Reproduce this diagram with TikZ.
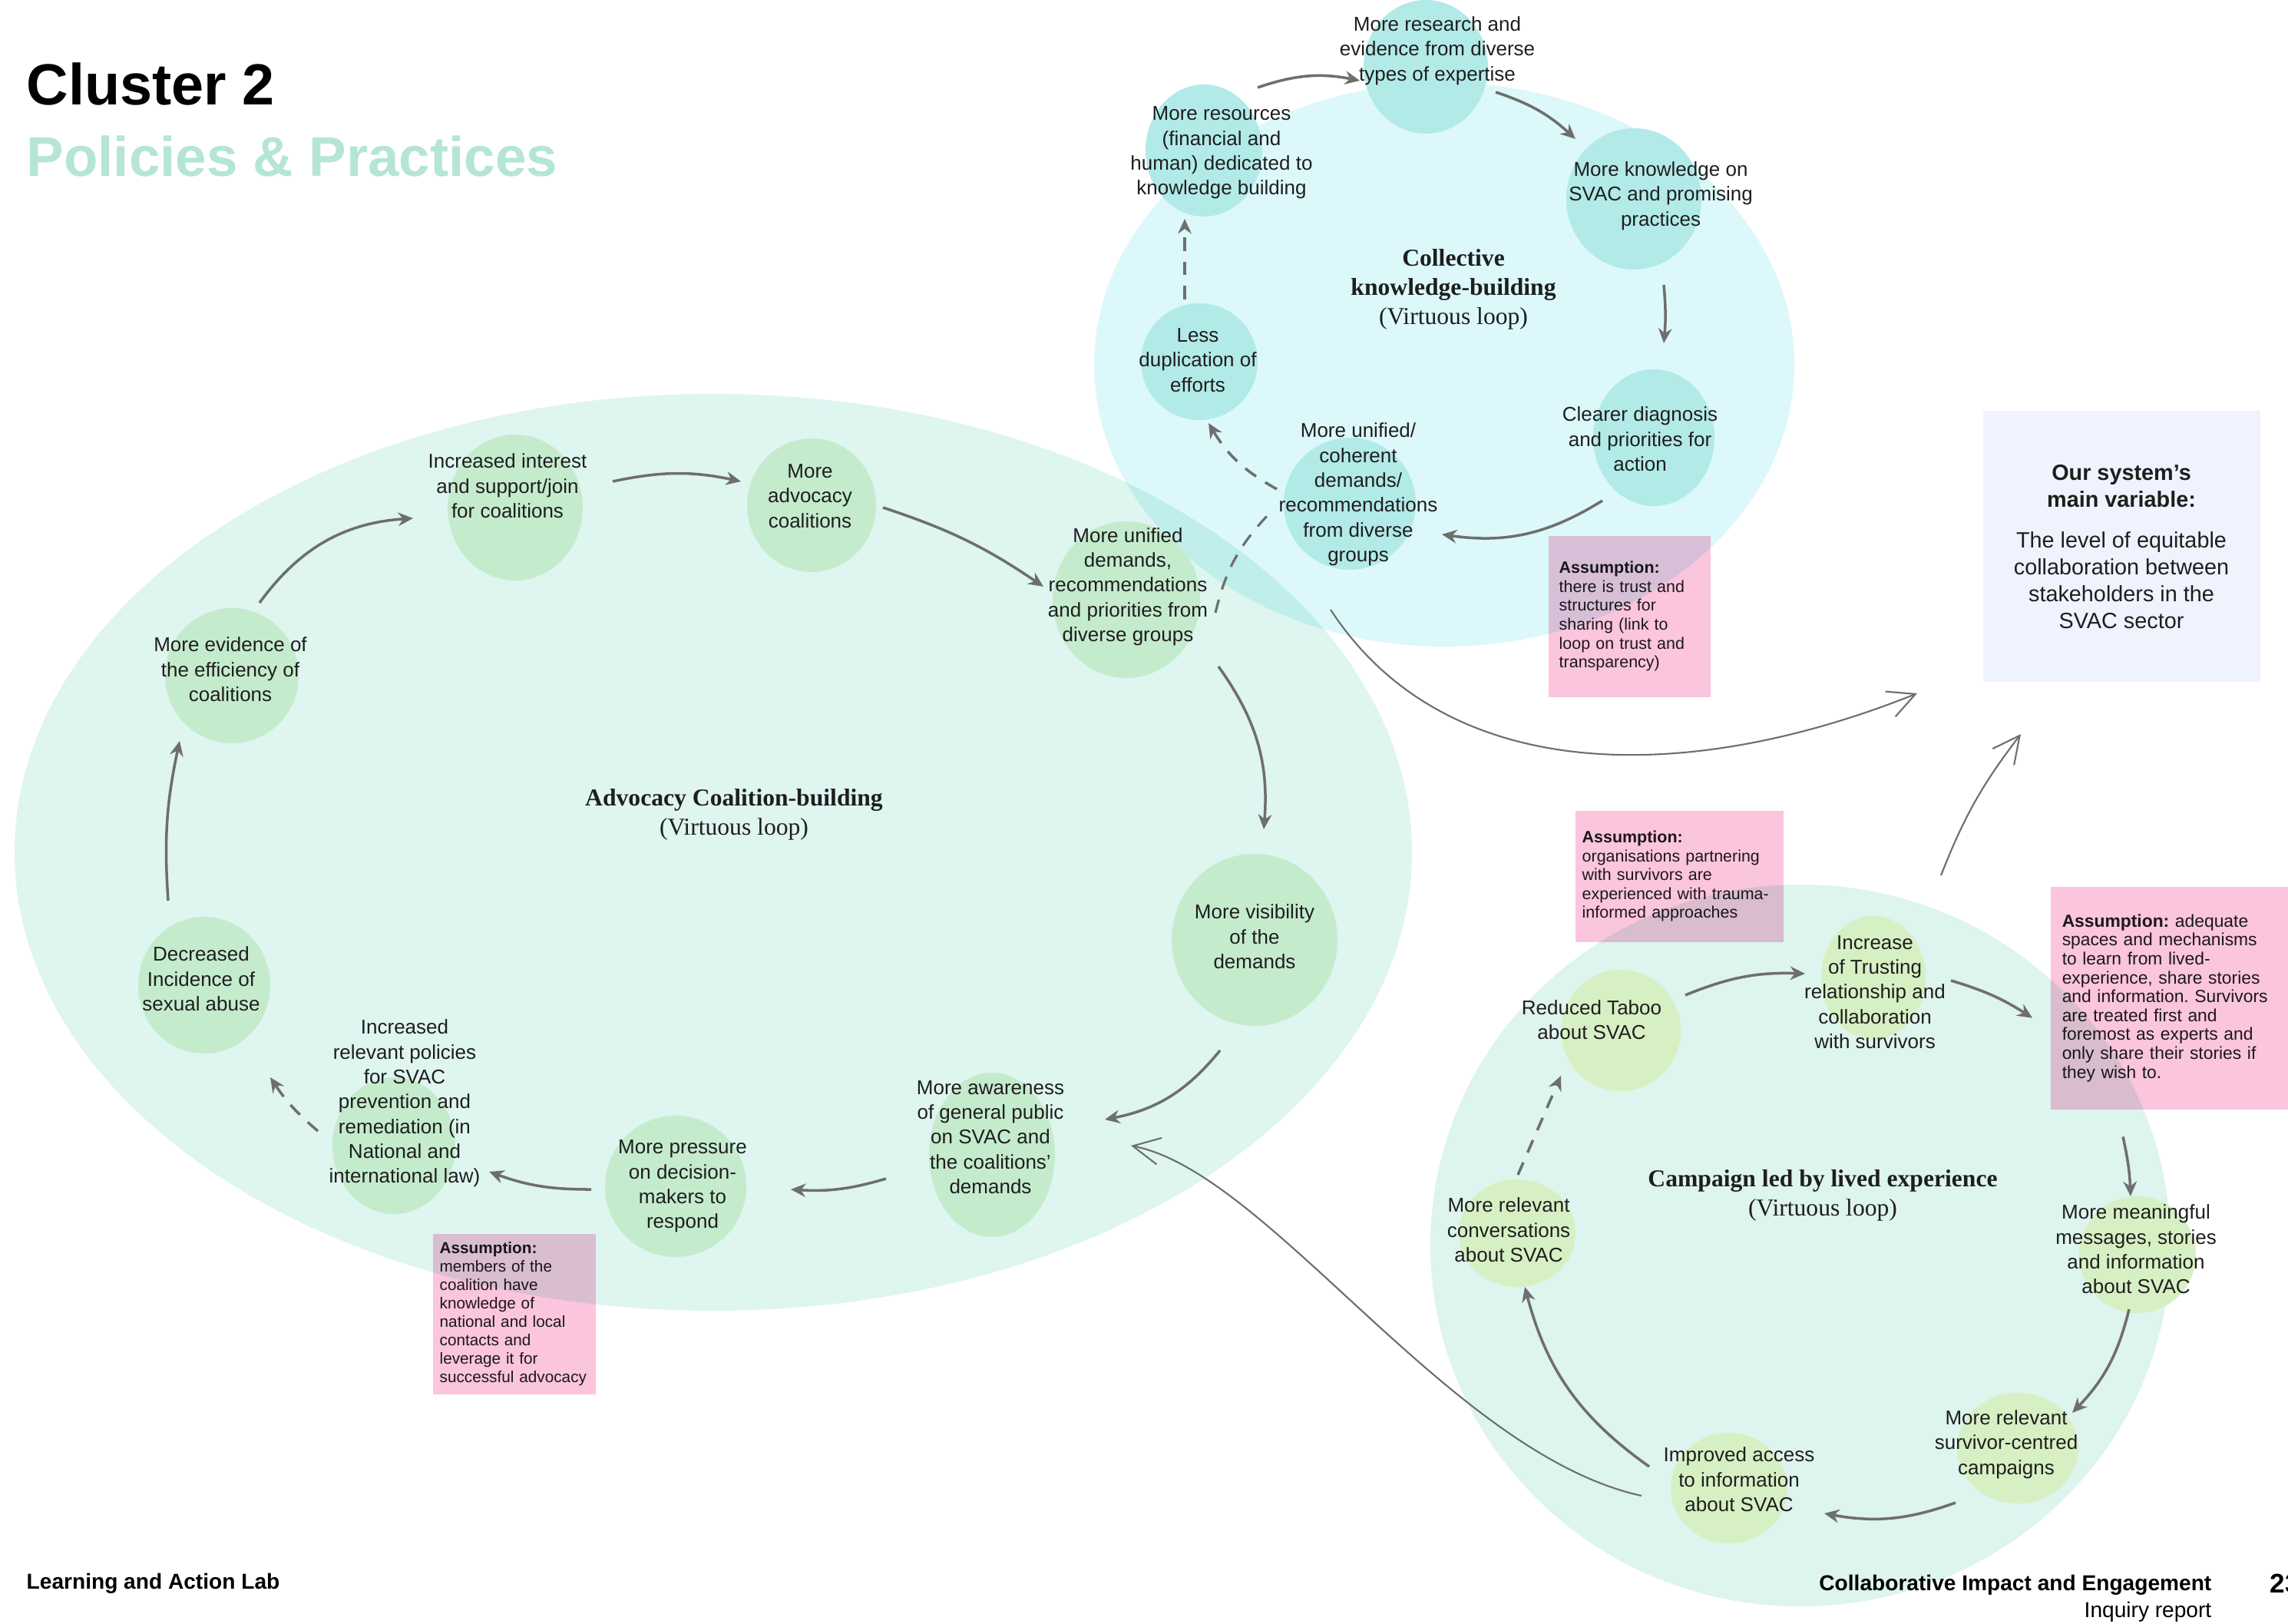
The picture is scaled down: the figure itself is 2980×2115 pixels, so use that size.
\documentclass[tikz,border=0pt]{standalone}
\usepackage{fontspec}
\setmainfont{Liberation Sans}
\newfontfamily\loopfont{Liberation Serif}
\usetikzlibrary{arrows.meta, positioning, calc, shapes.geometric}
\definecolor{inkdark}{RGB}{30,30,30}
\definecolor{arrowgray}{RGB}{110,110,110}
\definecolor{advbg}{RGB}{222,245,240}
\definecolor{knowbg}{RGB}{220,248,250}
\definecolor{campbg}{RGB}{222,244,238}
\definecolor{advblob}{RGB}{197,235,205}
\definecolor{knowblob}{RGB}{178,234,232}
\definecolor{campblob}{RGB}{214,240,196}
\definecolor{assumpink}{RGB}{250,197,221}
\definecolor{mainblue}{RGB}{238,243,254}
\definecolor{mintitle}{RGB}{181,229,214}
\frenchspacing
\hyphenpenalty=10000
\exhyphenpenalty=10000
\tikzset{
  loopbg/.style={
    ellipse,
    inner sep=0pt
  },
  looptext/.style={
    align=center,
    inner sep=0pt
  },
  looptitle/.style={
    align=center,
    font=\loopfont\fontsize{9}{10.8}\selectfont
  },
  assumbox/.style={
    fill=assumpink,
    anchor=north west,
    align=left,
    inner ysep=0pt,
    font=\fontsize{6.1}{7}\selectfont
  },
  pagetext/.style={inner sep=0pt, text=black},
  flow/.style={draw=arrowgray, line width=1pt, -{Stealth[length=5.5pt, width=5pt]}},
  dashedflow/.style={flow, dash pattern=on 5pt off 4pt},
  dashedlink/.style={draw=arrowgray, line width=0.9pt, dash pattern=on 5pt off 4pt},
  bigarrow/.style={draw=arrowgray, line width=0.6pt, -{Straight Barb[length=10pt, width=10pt]}}
}

\begin{document}
\begin{tikzpicture}[
    x=0.1mm, y=-0.1mm,
    font=\fontsize{7.4}{9.2}\selectfont,
    text=inkdark
]
\useasboundingbox (0,0) rectangle (2980,2115);
\fill[white] (0,0) rectangle (2980,2115);

% the three loops
\begin{scope}[blend mode=multiply]
\node[loopbg, fill=advbg, minimum width=182mm, minimum height=119.4mm] (advloop) at (929,1110) {};
\node[loopbg, fill=knowbg, minimum width=91.2mm, minimum height=73.4mm] (knowloop) at (1881,475) {};
\node[loopbg, fill=campbg, minimum width=96.4mm, minimum height=94mm] (camploop) at (2345,1622) {};
\end{scope}

% blobs behind the texts
\foreach \bx/\by/\rx/\ry in {671/661/88/95, 1057/658/84/87, 1467/781/96/102,
    1634/1224/108/112, 1292/1504/82/107, 880/1545/92/92, 513/1492/80/89,
    266/1283/86/89, 302/880/87/88}
  \fill[advblob] (\bx,\by) ellipse [x radius=\rx, y radius=\ry];
\foreach \bx/\by/\rx/\ry in {1857/87/81/87, 2128/259/88/92, 2154/570/79/89,
    1758/656/86/86, 1562/471/76/76, 1568/196/76/86}
  \fill[knowblob] (\bx,\by) ellipse [x radius=\rx, y radius=\ry];
\foreach \bx/\by/\rx/\ry in {2111/1342/78/79, 2440/1273/68/80, 2784/1634/76/76,
    2628/1886/79/72, 2252/1938/76/72, 1976/1606/76/70}
  \fill[campblob] (\bx,\by) ellipse [x radius=\rx, y radius=\ry];

% advocacy coalition-building
\node[looptext] (a1) at (661,633) {Increased interest\\and support/join\\for coalitions};
\node[looptext] (a2) at (1055,646) {More\\advocacy\\coalitions};
\node[looptext] (a3) at (1469,764) {More unified\\demands,\\recommendations\\and priorities from\\diverse groups};
\node[looptext] (a4) at (1634,1220) {More visibility\\of the\\demands};
\node[looptext] (a5) at (1290,1481) {More awareness\\of general public\\on SVAC and\\the coalitions’\\demands};
\node[looptext] (a6) at (889,1545) {More pressure\\on decision-\\makers to\\respond};
\node[looptext] (a7) at (527,1437) {Increased\\relevant policies\\for SVAC\\prevention and\\remediation (in\\National and\\international law)};
\node[looptext] (a8) at (262,1275) {Decreased\\Incidence of\\sexual abuse};
\node[looptext] (a9) at (300,872) {More evidence of\\the efficiency of\\coalitions};
\node[looptitle] (advtitle) at (956,1061) {\textbf{Advocacy Coalition-building}\\(Virtuous loop)};

% collective knowledge-building
\node[looptext] (c1) at (1872,66) {More research and\\evidence from diverse\\types of expertise};
\node[looptext] (c2) at (2163,255) {More knowledge on\\SVAC and promising\\practices};
\node[looptext] (c3) at (2136,572) {Clearer diagnosis\\and priorities for\\action};
\node[looptext] (c4) at (1769,644) {More unified/\\coherent\\demands/\\recommendations\\from diverse\\groups};
\node[looptext] (c5) at (1560,469) {Less\\duplication of\\efforts};
\node[looptext] (c6) at (1591,199) {More resources\\(financial and\\human) dedicated to\\knowledge building};
\node[looptitle] (knowtitle) at (1893,377) {\textbf{Collective}\\\textbf{knowledge-building}\\(Virtuous loop)};

% campaign led by lived experience
\node[looptext] (p1) at (2073,1328) {Reduced Taboo\\about SVAC};
\node[looptext] (p2) at (2442,1292) {Increase\\of Trusting\\relationship and\\collaboration\\with survivors};
\node[looptext] (p3) at (2782,1627) {More meaningful\\messages, stories\\and information\\about SVAC};
\node[looptext] (p4) at (2613,1881) {More relevant\\survivor-centred\\campaigns};
\node[looptext] (p5) at (2265,1927) {Improved access\\to information\\about SVAC};
\node[looptext] (p6) at (1965,1602) {More relevant\\conversations\\about SVAC};
\node[looptitle] (camptitle) at (2374,1557) {\textbf{Campaign led by lived experience}\\(Virtuous loop)};

% main variable
\node[fill=mainblue, minimum width=36.1mm, minimum height=35.3mm, align=center,
  font=\fontsize{8.2}{10}\selectfont] (mainvar) at (2763,712)
{\textbf{Our system’s}\\\textbf{main variable:}\\[5pt]The level of equitable\\collaboration between\\stakeholders in the\\SVAC sector};

% assumptions
\begin{scope}[blend mode=multiply]
\node[assumbox, minimum height=21mm, text width=18.3mm, inner xsep=1.4mm] (b1) at (2016,697)
{\textbf{Assumption:}\\there is trust and\\structures for\\sharing (link to\\loop on trust and\\transparency)};
\node[assumbox, minimum height=20.9mm, text width=19.4mm, inner xsep=0.9mm,
  font=\fontsize{5.9}{6.8}\selectfont] (b2) at (563,1606)
{\textbf{Assumption:}\\members of the\\coalition have\\knowledge of\\national and local\\contacts and\\leverage it for\\successful advocacy};
\node[assumbox, minimum height=17.1mm, text width=25.3mm, inner xsep=0.9mm] (b3) at (2051,1055)
{\textbf{Assumption:}\\organisations partnering\\with survivors are\\experienced with trauma-\\informed approaches};
\node[assumbox, minimum height=29mm, text width=28mm, inner xsep=1.5mm,
  font=\fontsize{6.5}{7}\selectfont] (b4) at (2670,1154)
{\textbf{Assumption:} adequate\\spaces and mechanisms\\to learn from lived-\\experience, share stories\\and information. Survivors\\are treated first and\\foremost as experts and\\only share their stories if\\they wish to.};
\end{scope}

% loop arrows
\draw[flow] ($(a9)+(38,-87)$) to[bend left=25] ($(a1)+(-123,42)$);
\draw[flow] ($(a1)+(137,-6)$) to[bend left=12] ($(a2)+(-90,-19)$);
\draw[flow] ($(a2)+(95,15)$) to[bend left=8] ($(a3)+(-110,0)$);
\draw[flow] ($(a3)+(118,104)$) to[bend left=20] ($(a4)+(12,-140)$);
\draw[flow] ($(a4)+(-45,148)$) to[bend left=20] ($(a5)+(149,-23)$);
\draw[flow] ($(a5)+(-136,54)$) to[bend left=10] ($(a6)+(141,4)$);
\draw[flow] ($(a6)+(-119,4)$) to[bend left=10] ($(a7)+(110,89)$);
\draw[dashedflow] ($(a7)+(-113,36)$) to[bend left=8] ($(a8)+(90,128)$);
\draw[flow] ($(a8)+(-43,-102)$) to[bend left=8] ($(a9)+(-66,93)$);

\draw[flow] ($(c6)+(47,-85)$) to[bend left=15] ($(c1)+(-101,39)$);
\draw[flow] ($(c1)+(76,54)$) to[bend left=12] ($(c2)+(-111,-74)$);
\draw[flow] ($(c2)+(4,116)$) to[bend left=5] ($(c3)+(31,-125)$);
\draw[flow] ($(c3)+(-49,80)$) to[bend left=20] ($(c4)+(109,52)$);
\draw[dashedflow] ($(c4)+(-106,-7)$) to[bend left=15] ($(c5)+(14,82)$);
\draw[dashedflow] ($(c5)+(-17,-79)$) -- ($(c6)+(-48,86)$);
\draw[dashedlink] ($(a3)+(114,34)$) to[bend left=15] ($(c4)+(-116,25)$);

\draw[flow] ($(p1)+(122,-32)$) to[bend left=12] ($(p2)+(-91,-24)$);
\draw[flow] ($(p2)+(99,-15)$) to[bend left=8] ($(b4.west)+(-23,26)$);
\draw[flow] ($(b4.south west)+(95,35)$) to[bend left=5] ($(p3)+(-7,-69)$);
\draw[flow] ($(p3)+(-9,78)$) to[bend left=15] ($(p4)+(86,-41)$);
\draw[flow] ($(p4)+(-66,76)$) to[bend left=15] ($(p5)+(111,44)$);
\draw[flow] ($(p5)+(-117,-17)$) to[bend left=20] ($(p6)+(21,74)$);
\draw[dashedflow] ($(p6)+(12,-72)$) -- ($(p1)+(-40,73)$);

% links between loops
\draw[bigarrow] ($(c4)+(-36,150)$) .. controls +(150,230) and +(-300,120) .. ($(mainvar)+(-266,191)$);
\draw[bigarrow] ($(camploop)+(183,-482)$) to[bend left=8] ($(mainvar)+(-131,244)$);
\draw[bigarrow] ($(p5)+(-127,21)$) .. controls +(-250,-55) and +(180,35) .. ($(a5)+(183,11)$);

% titles and footer
\node[pagetext, anchor=base west, font=\bfseries\fontsize{21.5}{26}\selectfont] (cluster) at (34,137) {Cluster 2};
\node[pagetext, anchor=base west, font=\bfseries\fontsize{20.7}{25}\selectfont, text=mintitle] (theme) at (34,230) {Policies \& Practices};
\node[pagetext, anchor=west, font=\bfseries\fontsize{8}{10}\selectfont] (lab) at (34,2062) {Learning and Action Lab};
\node[pagetext, anchor=east, font=\bfseries\fontsize{8}{10}\selectfont] (report) at (2881,2064) {Collaborative Impact and Engagement};
\node[pagetext, anchor=east, font=\fontsize{8}{10}\selectfont] (inquiry) at (2881,2099) {Inquiry report};
\node[pagetext, anchor=west, font=\bfseries\fontsize{10}{12}\selectfont] (pagenum) at (2956,2062) {23};

\end{tikzpicture}
\end{document}
